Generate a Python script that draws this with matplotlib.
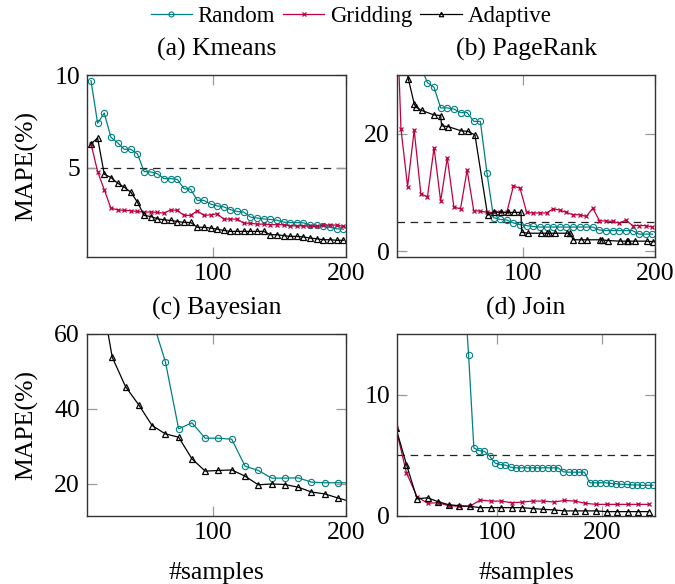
import matplotlib
matplotlib.use("Agg")
import matplotlib.pyplot as plt

plt.rcParams['font.family'] = ['Liberation Serif', 'DejaVu Serif']
plt.rcParams['font.size'] = 18

TEAL = '#008080'
PURPLE = '#BF0040'

# (a) Kmeans
x_a = list(range(8, 199, 5))
random_a = [9.7, 7.4, 7.95, 6.65, 6.35, 6.0, 6.0, 5.75, 4.8, 4.78, 4.68, 4.42, 4.42,
            4.38, 3.88, 3.85, 3.25, 3.25, 3.05, 2.95, 2.9, 2.75, 2.65, 2.62, 2.35,
            2.3, 2.25, 2.22, 2.18, 2.08, 2.05, 2.05, 2.04, 1.92, 1.9, 1.85, 1.8, 1.72, 1.7]
grid_a = [6.3, 4.8, 3.82, 2.83, 2.74, 2.71, 2.69, 2.65, 2.62, 2.62, 2.6, 2.56, 2.74,
          2.71, 2.44, 2.44, 2.69, 2.44, 2.47, 2.53, 2.24, 2.24, 2.24, 2.02, 2.02,
          1.97, 1.97, 1.94, 1.94, 1.94, 1.88, 1.88, 1.88, 1.85, 1.85, 1.92, 1.92, 1.92, 1.85]
adapt_a = [6.3, 6.6, 4.66, 4.48, 4.18, 3.96, 3.69, 3.15, 2.44, 2.38, 2.26, 2.2, 2.17,
           2.11, 2.06, 2.06, 1.8, 1.8, 1.76, 1.7, 1.63, 1.58, 1.58, 1.58, 1.58,
           1.58, 1.58, 1.4, 1.4, 1.35, 1.31, 1.31, 1.28, 1.22, 1.18, 1.13, 1.13, 1.1, 1.1]

# (b) PageRank
x_rand_b = list(range(23, 199, 5))
random_b = [31.4, 28.7, 27.9, 24.4, 24.4, 24.2, 23.6, 23.6, 22.1, 22.1, 13.3, 5.7,
            5.4, 5.3, 4.8, 4.5, 4.35, 4.2, 4.1, 4.1, 4.1, 4.1, 4.1, 4.1, 4.1, 4.1,
            4.1, 3.6, 3.5, 3.5, 3.5, 3.5, 3.5, 2.9, 2.9, 2.9]
x_grid_b = list(range(3, 199, 5))
grid_b = [53, 20.8, 11.0, 20.6, 9.8, 9.2, 17.6, 8.5, 15.9, 7.5, 7.2, 13.8, 6.9, 6.8,
          6.6, 6.6, 6.6, 6.6, 11.1, 10.7, 6.6, 6.5, 6.5, 6.5, 7.2, 7.0, 6.6, 6.2,
          6.2, 5.9, 7.3, 5.2, 5.1, 5.1, 4.75, 5.3, 4.35, 4.35, 4.35, 4.1]
x_adapt_b = [8, 13.5, 18, 19, 23.6, 33, 38, 38.7, 43.8, 53.4, 58.4, 63.9, 73.5, 78.5,
             83.6, 88.7, 93.6, 98.7, 99.2, 104.2, 113.6, 118.6, 120.1, 124.4, 133.2,
             135.8, 138.2, 144.1, 148.4, 158.4, 159.7, 164.7, 173.5, 178.6, 179.8,
             184.9, 193.7, 198.7]
adapt_b = [37, 29.4, 25.1, 24.6, 23.96, 23.2, 23.1, 21.35, 21.2, 20.5, 20.4, 19.8,
           6.1, 6.7, 6.6, 6.6, 6.6, 6.6, 3.2, 3.05, 3.05, 3.05, 3.05, 3.05, 3.05,
           3.05, 1.93, 1.93, 1.93, 1.93, 1.93, 1.8, 1.7, 1.7, 1.7, 1.7, 1.7, 1.6]

# (c) Bayesian
x_rand_c = list(range(54, 205, 10))
random_c = [64, 52.6, 34.67, 36.27, 32.18, 32.18, 31.9, 24.71, 23.56, 21.51, 21.51,
            21.6, 20.44, 20.27, 20.27, 20.27]
x_adapt_c = list(range(14, 205, 10))
adapt_c = [74, 53.8, 45.96, 41.07, 35.56, 33.33, 32.44, 26.67, 23.38, 23.56, 23.7,
           22.04, 19.73, 19.96, 19.8, 19.1, 17.8, 17.3, 16.2, 15.2]

# (d) Join
x_rand_d = list(range(68, 249, 5))
random_d = [20, 13.25, 5.6, 5.39, 5.33, 4.92, 4.37, 4.24, 4.19, 4.02, 3.97, 3.97,
            3.97, 3.97, 3.97, 3.97, 3.97, 3.97, 3.97, 3.64, 3.61, 3.61, 3.61, 3.61,
            2.74, 2.74, 2.74, 2.74, 2.69, 2.66, 2.61, 2.61, 2.56, 2.56, 2.53, 2.53, 2.53]
x_d = list(range(4, 245, 10))
grid_d = [7.24, 3.55, 1.6, 1.05, 1.1, 0.85, 0.8, 0.8, 1.31, 1.23, 1.23, 1.09, 1.15,
          1.23, 1.23, 1.15, 1.28, 1.23, 1.04, 0.96, 0.96, 0.96, 0.96, 0.96, 0.96]
adapt_d = [7.24, 4.24, 1.42, 1.5, 1.18, 0.93, 0.85, 0.8, 0.69, 0.69, 0.69, 0.69, 0.69,
           0.61, 0.55, 0.5, 0.42, 0.42, 0.42, 0.42, 0.36, 0.36, 0.36, 0.36, 0.36]

styles = {
    'Random': dict(color=TEAL, marker='o', ms=4.5, mfc='none', mew=0.8, lw=0.9),
    'Gridding': dict(color=PURPLE, marker='x', ms=3.5, mew=0.9, lw=0.9),
    'Adaptive': dict(color='black', marker='^', ms=4, mfc='none', mew=0.9, lw=0.9),
}

W, H = 675, 584
fig = plt.figure(figsize=(W / 100, H / 100), dpi=100)


def add_ax(l, t, r, b):
    return fig.add_axes([l / W, 1 - b / H, (r - l) / W, (b - t) / H])


def style_ax(ax, title, xlim, ylim, yticks, xticks, dashed=True):
    ax.set_xlim(*xlim)
    ax.set_ylim(*ylim)
    ax.set_xticks(xticks)
    ax.set_yticks(yticks)
    ax.set_title(title, pad=14, fontsize=18.5)
    ax.tick_params(direction='in', length=7, width=0.9, color='#9a9a9a',
                   top=True, right=True, labelsize=18.5)
    ax.tick_params(axis='x', pad=4)
    ax.tick_params(axis='y', pad=5)
    for s in ax.spines.values():
        s.set_color('#333333')
        s.set_linewidth(1.0)
    if dashed:
        ax.axhline(5, color='#222222', lw=0.9, ls=(0, (6, 4.5)), zorder=1)


ax_a = add_ax(87, 75, 346, 257)
ax_b = add_ax(397, 75, 655, 257)
ax_c = add_ax(87, 334, 346, 516)
ax_d = add_ax(397, 334, 655, 516)

ax_a.plot(x_a, random_a, label='Random', **styles['Random'])
ax_a.plot(x_a, grid_a, label='Gridding', **styles['Gridding'])
ax_a.plot(x_a, adapt_a, label='Adaptive', **styles['Adaptive'])
style_ax(ax_a, '(a) Kmeans', (5, 200), (0.2, 10), [5, 10], [100, 200])

ax_b.plot(x_rand_b, random_b, **styles['Random'])
ax_b.plot(x_grid_b, grid_b, **styles['Gridding'])
ax_b.plot(x_adapt_b, adapt_b, **styles['Adaptive'])
style_ax(ax_b, '(b) PageRank', (5, 200), (-1, 30), [0, 20], [100, 200])

ax_c.plot(x_rand_c, random_c, **styles['Random'])
ax_c.plot(x_adapt_c, adapt_c, **styles['Adaptive'])
style_ax(ax_c, '(c) Bayesian', (5, 200), (11.4, 60), [20, 40, 60], [100, 200], dashed=False)

ax_d.plot(x_rand_d, random_d, **styles['Random'])
ax_d.plot(x_d, grid_d, **styles['Gridding'])
ax_d.plot(x_d, adapt_d, **styles['Adaptive'])
style_ax(ax_d, '(d) Join', (5, 250), (0, 15), [0, 10], [100, 200])

for ax in (ax_a, ax_c):
    ax.set_ylabel('MAPE(%)', fontsize=18.5)
    ax.yaxis.set_label_coords(-0.19, 0.5)
for ax in (ax_c, ax_d):
    ax.set_xlabel('#samples', fontsize=18.5)
    ax.xaxis.set_label_coords(0.5, -0.25)

handles, labels = ax_a.get_legend_handles_labels()
fig.legend(handles, labels, loc='center', bbox_to_anchor=(351 / W, 1 - 16 / H),
           ncol=3, frameon=False, fontsize=16.5, handlelength=1.8,
           handletextpad=0.25, columnspacing=0.35, numpoints=1, markerscale=0.8)

fig.savefig('out.png', dpi=100)
